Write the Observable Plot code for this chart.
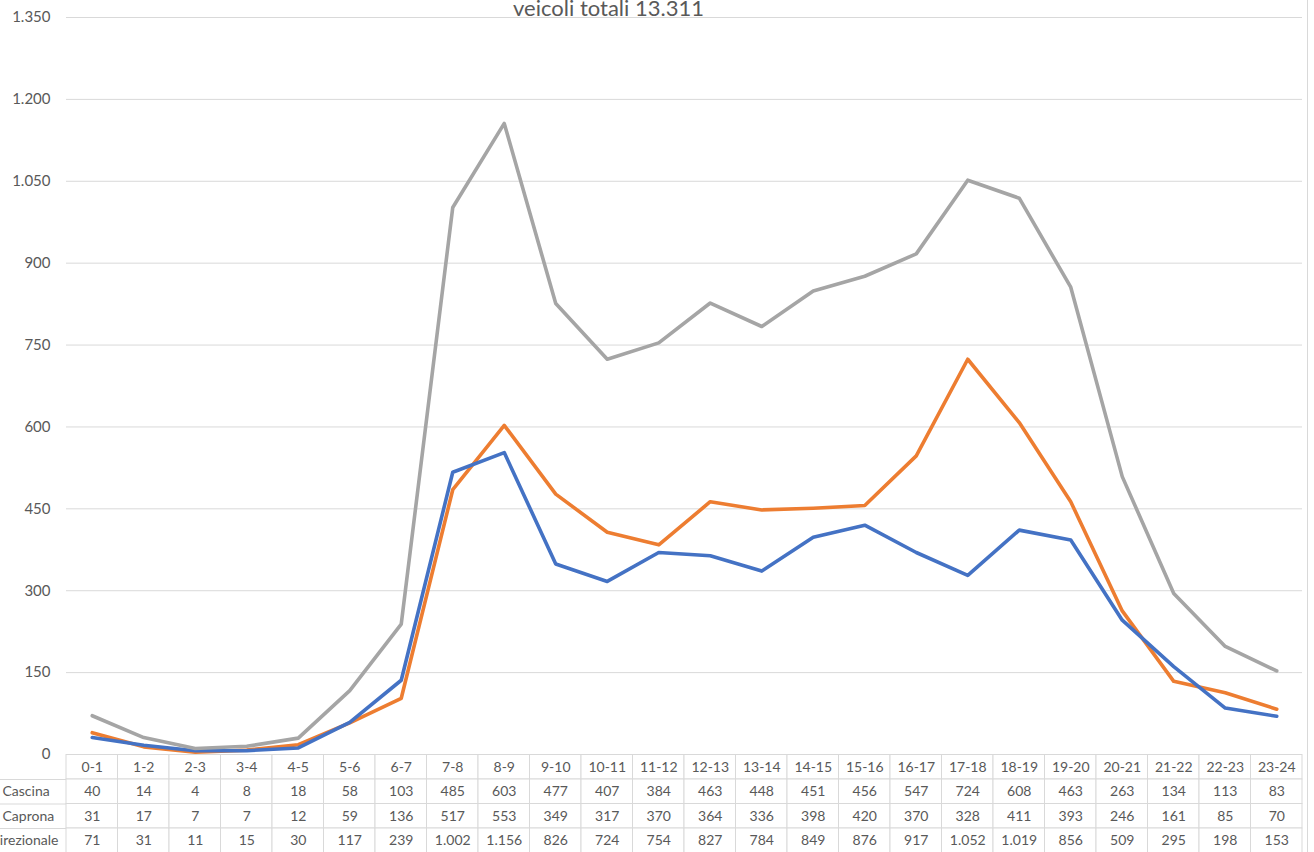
<!DOCTYPE html>
<html>
<head>
<meta charset="utf-8">
<script src="https://cdn.jsdelivr.net/npm/d3@7"></script>
<script src="https://cdn.jsdelivr.net/npm/@observablehq/plot@0.6"></script>
<style>
  html, body { margin: 0; padding: 0; background: #fff; }
  #wrap { position: relative; width: 1314px; height: 852px; overflow: hidden; }
  #wrap svg { display: block; }
  #border { position: absolute; left: 1307px; top: 0; width: 1px; height: 852px; background: #d9d9d9; }
</style>
</head>
<body>
<div id="wrap"><div id="border"></div></div>
<script>
// ---- data ----
const title = "veicoli totali 13.311";
const hours = ["0-1","1-2","2-3","3-4","4-5","5-6","6-7","7-8","8-9","9-10","10-11","11-12",
  "12-13","13-14","14-15","15-16","16-17","17-18","18-19","19-20","20-21","21-22","22-23","23-24"];
const seriesNames = ["Cascina", "Caprona", "Bidirezionale"];
const cascina = [40,14,4,8,18,58,103,485,603,477,407,384,463,448,451,456,547,724,608,463,263,134,113,83];
const caprona = [31,17,7,7,12,59,136,517,553,349,317,370,364,336,398,420,370,328,411,393,246,161,85,70];
const bidirezionale = [71,31,11,15,30,117,239,1002,1156,826,724,754,827,784,849,876,917,1052,1019,856,509,295,198,153];
const yTicks = [0,150,300,450,600,750,900,1050,1200,1350];
const seriesColors = ["#ED7D31", "#4472C4", "#A5A5A5"];

// ---- helpers ----
const itFmt = d3.formatLocale({decimal: ",", thousands: ".", grouping: [3], currency: ["", " €"]}).format(",d");
const allValues = [cascina, caprona, bidirezionale];
const rows = seriesNames.map((name, i) => hours.map((h, j) => ({series: name, hour: h, value: allValues[i][j]})));

const font = "Lato, 'Noto Sans', sans-serif";
const gridColor = "#d9d9d9";
const textColor = "#595959";

// ---- chart ----
const chart = Plot.plot({
  width: 1314,
  height: 754,
  marginTop: 17,
  marginBottom: 0,
  marginLeft: 66,
  marginRight: 12,
  style: {fontFamily: font, fontSize: "15px", color: textColor, background: "transparent", overflow: "visible"},
  x: {type: "point", domain: hours, padding: 0.5, round: false, axis: null},
  y: {domain: [0, 1350], axis: null},
  marks: [
    Plot.ruleY(yTicks.slice(1), {stroke: gridColor, strokeWidth: 1}),
    Plot.axisY({ticks: yTicks, tickSize: 0, tickPadding: 16, tickFormat: itFmt, label: null, fill: textColor, fontSize: 15}),
    Plot.text([title], {frameAnchor: "top", lineAnchor: "bottom", dy: -2, dx: -76, fontSize: 22, fill: textColor}),
    ...rows.map((data, i) => Plot.line(data, {
      x: "hour", y: "value", stroke: seriesColors[i], strokeWidth: 3.6,
      strokeLinejoin: "round", strokeLinecap: "round"
    }))
  ]
});

// ---- data table ----
const cells = [];
hours.forEach((h, j) => {
  cells.push({hour: h, r: 0, text: h});
  allValues.forEach((vals, i) => cells.push({hour: h, r: i + 1, text: itFmt(vals[j])}));
});
const labelRows = seriesNames.map((name, i) => ({name, r: i + 1}));

const table = Plot.plot({
  width: 1314,
  height: 98,
  marginTop: 0,
  marginBottom: 0,
  marginLeft: 0,
  marginRight: 12,
  style: {fontFamily: font, fontSize: "14px", color: textColor, background: "transparent", overflow: "visible"},
  x: {type: "band", domain: hours, range: [66, 1302], padding: 0, round: false, axis: null},
  y: {domain: [0, 4], range: [0.5, 98.5], axis: null},
  marks: [
    Plot.ruleY([1, 2, 3], {stroke: gridColor, strokeWidth: 1}),
    Plot.barY(cells, {x: "hour", y1: "r", y2: d => d.r + 1, fill: "white", stroke: gridColor, strokeWidth: 1, inset: 0}),
    Plot.text(cells, {x: "hour", y: d => d.r + 0.5, text: "text", fill: textColor, fontSize: 14}),
    Plot.text(labelRows.slice(0, 2), {y: d => d.r + 0.5, text: "name", frameAnchor: "left", textAnchor: "start", dx: 2, fill: textColor, fontSize: 14}),
    Plot.text(labelRows.slice(2), {y: d => d.r + 0.5, text: "name", frameAnchor: "left", textAnchor: "end", dx: 58, fill: textColor, fontSize: 14})
  ]
});

const wrap = document.getElementById("wrap");
wrap.insertBefore(chart, wrap.firstChild);
wrap.insertBefore(table, chart.nextSibling);
</script>
</body>
</html>
